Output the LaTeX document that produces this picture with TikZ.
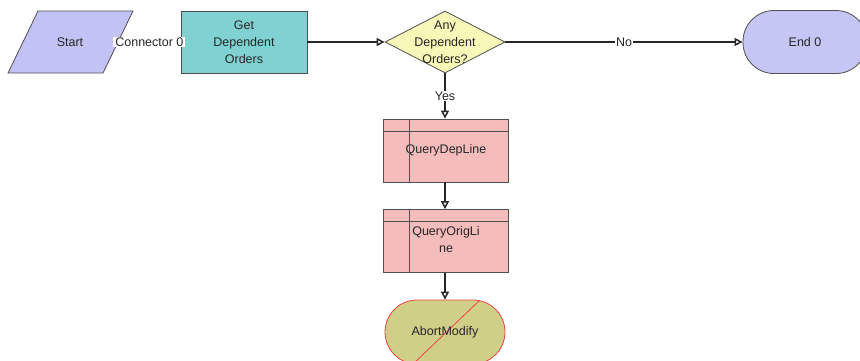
\documentclass[tikz,border=0pt]{standalone}
\usepackage{fontspec}
\setmainfont{Liberation Sans}
\usetikzlibrary{shapes.geometric,arrows.meta,calc}
\definecolor{startc}{HTML}{C2C2F4}
\definecolor{getc}{HTML}{80D2D2}
\definecolor{decc}{HTML}{F7F7B8}
\definecolor{endc}{HTML}{C6C6F4}
\definecolor{qc}{HTML}{F5BCBC}
\definecolor{abc}{HTML}{CFCF88}
\definecolor{abr}{HTML}{EE4444}
\definecolor{bord}{HTML}{505050}
\tikzset{
  lbl/.style={font=\fontsize{12.5}{17}\selectfont, text=black!85, align=center, inner sep=1pt},
  wlbl/.style={lbl, fill=white},
  shp/.style={draw=bord, line width=0.8pt},
  procbox/.style={shp, fill=getc, minimum width=126pt, minimum height=62pt, inner sep=0pt},
  subbox/.style={shp, fill=qc, minimum width=125pt, minimum height=63pt, inner sep=0pt},
  termbox/.style={shp, fill=endc, rounded corners=31pt, minimum width=124pt, minimum height=63pt, inner sep=0pt},
  abortbox/.style={draw=abr, line width=0.8pt, fill=abc, rounded corners=32pt, minimum width=120pt, minimum height=64pt, inner sep=0pt},
  conn/.style={draw=black!85, line width=1.5pt, -{Triangle[open,length=8pt,width=8pt,line width=1.5pt]}},
  plain/.style={draw=black!85, line width=1.5pt}
}
\begin{document}
\begin{tikzpicture}[x=1pt,y=-1pt]
\useasboundingbox (0,0) rectangle (860,360);
% Start parallelogram
\filldraw[shp, fill=startc] (38,11) -- (133,11) -- (103,73) -- (8,73) -- cycle;
\node[lbl, minimum width=96pt, minimum height=62pt] (start) at (70,42) {Start};
% Get Dependent Orders
\node[procbox, lbl, shp, fill=getc, minimum width=126pt, minimum height=62pt] (get) at (244,42) {Get\\Dependent\\Orders};
% Decision diamond
\node[diamond, shp, fill=decc, minimum width=120pt, minimum height=62pt, inner sep=0pt] (dec) at (445,42) {};
\node[lbl] (dect) at (dec.center) {Any\\Dependent\\Orders?};
% End 0
\node[termbox, lbl, shp, fill=endc] (end) at (805,42) {End 0};
% QueryDepLine
\node[subbox, lbl, shp, fill=qc] (q1) at (446,150.5) {QueryDepLine};
\draw[shp] ($(q1.north west)+(26,0)$) -- ($(q1.south west)+(26,0)$);
\draw[shp] ($(q1.north west)+(0,13)$) -- ($(q1.north east)+(0,13)$);
% QueryOrigLine
\node[subbox, lbl, shp, fill=qc] (q2) at (446,241) {};
\node[lbl] (q2t) at (446,240) {QueryOrigLi\\ne};
\draw[shp] ($(q2.north west)+(26,0)$) -- ($(q2.south west)+(26,0)$);
\draw[shp] ($(q2.north west)+(0,12)$) -- ($(q2.north east)+(0,12)$);
% AbortModify
\node[abortbox] (ab) at (445,332) {};
\begin{scope}
\clip[rounded corners=32pt] (385,300) rectangle (505,364);
\draw[abr, line width=0.8pt] (413,364) -- (480,300);
\end{scope}
\node[lbl] (abt) at (ab.center) {AbortModify};
% connectors
\draw[plain] (start.east) -- (get.west) node[wlbl, midway, inner xsep=2pt] {Connector 0};
\draw[conn] (get.east) -- (dec.west);
\draw[conn] (dec.east) -- (end.west) node[wlbl, pos=0.5] {No};
\draw[conn] (dec.south) -- (dec.south |- q1.north) node[wlbl, pos=0.5] {Yes};
\draw[conn] (q1.south -| dec.south) -- (q2.north -| dec.south);
\draw[conn] (q2.south -| dec.south) -- (ab.north);
\end{tikzpicture}
\end{document}
